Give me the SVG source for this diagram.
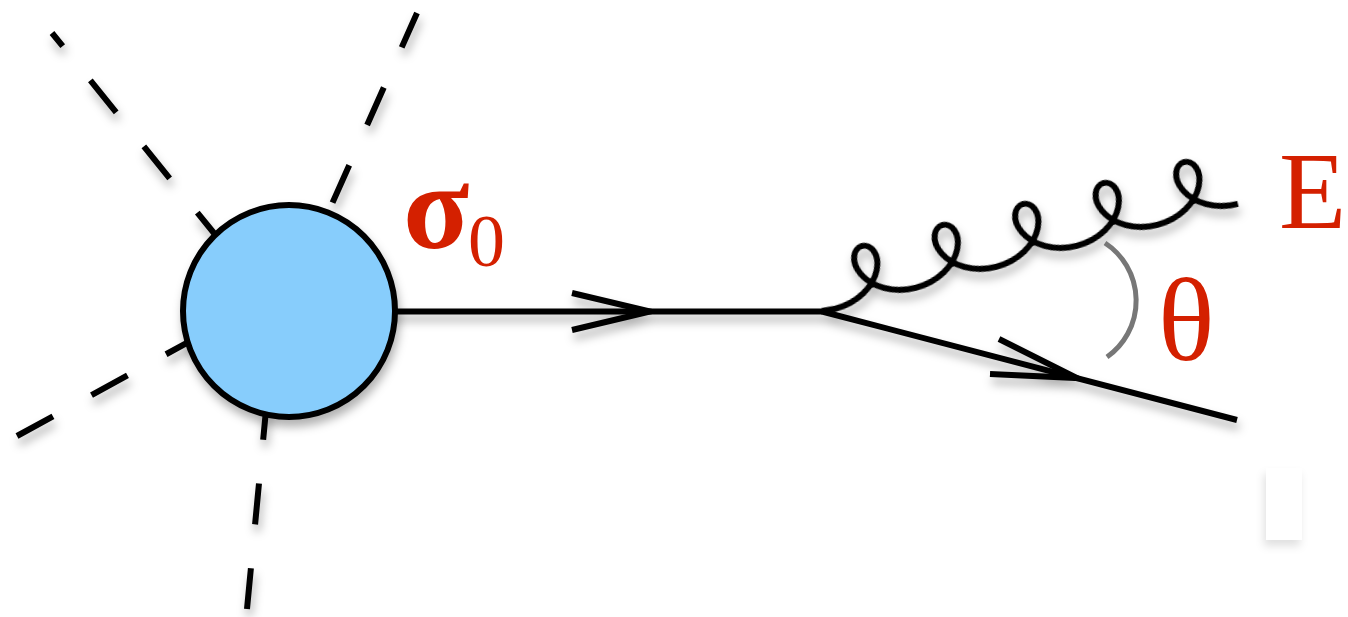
<svg xmlns="http://www.w3.org/2000/svg" width="1348" height="617" viewBox="0 0 1348 617">
<defs>
<filter id="sh" x="-20%" y="-20%" width="140%" height="160%">
<feDropShadow dx="2" dy="7" stdDeviation="5" flood-color="#000" flood-opacity="0.3"/>
</filter>
<filter id="shl" x="-50%" y="-20%" width="200%" height="160%">
<feDropShadow dx="-2" dy="6" stdDeviation="4" flood-color="#000" flood-opacity="0.12"/>
</filter>
<style>
.dash{fill:none;stroke:#000;stroke-width:6;stroke-dasharray:41 44}
.line{fill:none;stroke:#000;stroke-width:6}
.arrow{fill:none;stroke:#000;stroke-width:6;stroke-linejoin:miter;stroke-miterlimit:10}
.gluon{fill:none;stroke:#000;stroke-width:6;stroke-linecap:butt}
.lbl{fill:#d42000;font-family:"Liberation Serif","DejaVu Serif",serif}
</style>
</defs>
<rect width="1348" height="617" fill="#fff"/>
<g id="externals" filter="url(#sh)">
<line class="dash" x1="52" y1="33" x2="215.5" y2="235" style="stroke-dashoffset:24"/>
<line class="dash" x1="417" y1="13" x2="329.5" y2="209.5" style="stroke-dashoffset:3.4"/>
<line class="dash" x1="17" y1="436" x2="192.4" y2="339.8"/>
<line class="dash" x1="247" y1="609" x2="266" y2="410"/>
</g>
<g id="connectors" filter="url(#sh)">
<line class="line" x1="380" y1="311.5" x2="822" y2="311.5"/>
<path class="arrow" d="M572,293 L650,311.5 L572,330"/>
<line class="line" x1="822" y1="311.5" x2="1237" y2="420"/>
<path class="arrow" d="M999,339 L1077,378 L990,374"/>
<g transform="translate(868.8,272.1) rotate(-14.6)">
<path class="gluon" d="M-55.1,25.8 C-50.5,26.4 -46,27 -41.6,27 c11.06,0 22.08,-2.91 30.92,-7.91 c8.84,-5 15.41,-12.02 18.88,-19.09 c3.47,-7.07 3.81,-14.09 1.91,-19.09 c-1.9,-5 -5.98,-7.91 -10.11,-7.91 c-4.13,0 -8.21,2.91 -10.11,7.91 c-1.9,5 -1.56,12.02 1.91,19.09 c3.47,7.07 10.04,14.09 18.88,19.09 c8.84,5 19.86,7.91 30.92,7.91 c11.06,0 22.08,-2.91 30.92,-7.91 c8.84,-5 15.41,-12.02 18.88,-19.09 c3.47,-7.07 3.81,-14.09 1.91,-19.09 c-1.9,-5 -5.98,-7.91 -10.11,-7.91 c-4.13,0 -8.21,2.91 -10.11,7.91 c-1.9,5 -1.56,12.02 1.91,19.09 c3.47,7.07 10.04,14.09 18.88,19.09 c8.84,5 19.86,7.91 30.92,7.91 c11.06,0 22.08,-2.91 30.92,-7.91 c8.84,-5 15.41,-12.02 18.88,-19.09 c3.47,-7.07 3.81,-14.09 1.91,-19.09 c-1.9,-5 -5.98,-7.91 -10.11,-7.91 c-4.13,0 -8.21,2.91 -10.11,7.91 c-1.9,5 -1.56,12.02 1.91,19.09 c3.47,7.07 10.04,14.09 18.88,19.09 c8.84,5 19.86,7.91 30.92,7.91 c11.06,0 22.08,-2.91 30.92,-7.91 c8.84,-5 15.41,-12.02 18.88,-19.09 c3.47,-7.07 3.81,-14.09 1.91,-19.09 c-1.9,-5 -5.98,-7.91 -10.11,-7.91 c-4.13,0 -8.21,2.91 -10.11,7.91 c-1.9,5 -1.56,12.02 1.91,19.09 c3.47,7.07 10.04,14.09 18.88,19.09 c8.84,5 19.86,7.91 30.92,7.91 c11.06,0 22.08,-2.91 30.92,-7.91 c8.84,-5 15.41,-12.02 18.88,-19.09 c3.47,-7.07 3.81,-14.09 1.91,-19.09 c-1.9,-5 -5.98,-7.91 -10.11,-7.91 c-4.13,0 -8.21,2.91 -10.11,7.91 c-1.9,5 -1.56,12.02 1.91,19.09 c3.47,7.07 10.04,14.09 18.88,19.09 c8.84,5 19.86,7.91 30.92,7.91"/>
</g>
</g>
<g id="blob" filter="url(#sh)">
<circle cx="289" cy="311" r="106" fill="#87cdfc" stroke="#000" stroke-width="6"/>
</g>
<g id="label-theta">
<rect x="1139" y="246" width="110" height="142" fill="#fff"/>
<path d="M1105,243 A69,69 0 0 1 1107,357" fill="none" stroke="#777" stroke-width="5"/>
<text class="lbl" x="1158" y="360" font-size="118">θ</text>
</g>
<g id="label-E">
<text class="lbl" x="1279" y="228" font-size="110">E</text>
</g>
<g id="label-sigma">
<text class="lbl" x="403" y="248"><tspan font-size="122" font-weight="bold">σ</tspan><tspan x="468" y="266" font-size="74">0</tspan></text>
</g>
<g id="box" filter="url(#shl)">
<rect x="1266" y="468" width="36" height="72" fill="#fff"/>
</g>
</svg>
